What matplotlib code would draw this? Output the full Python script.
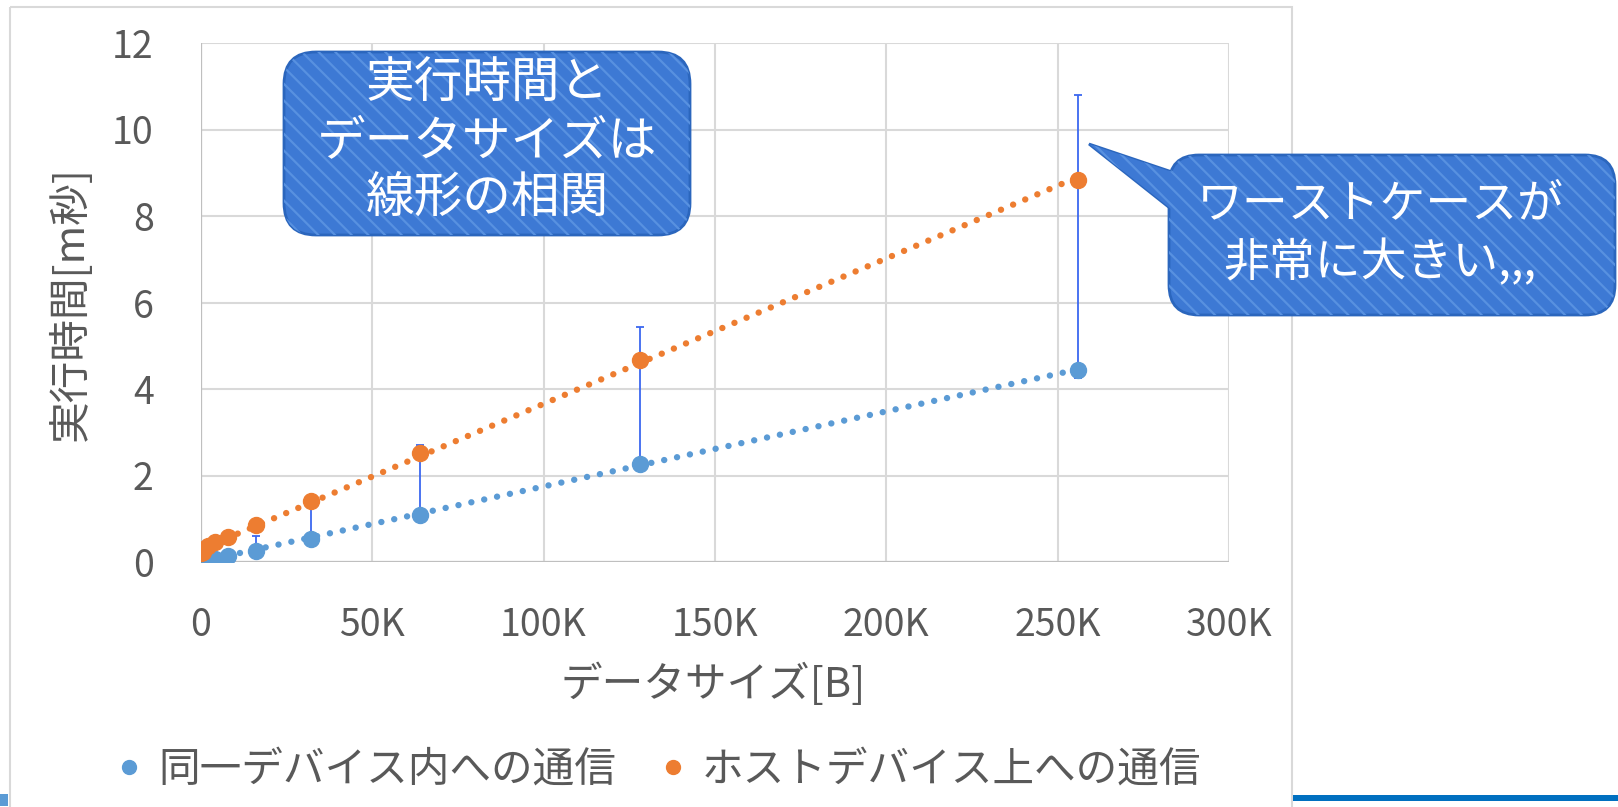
import numpy as np
import matplotlib.pyplot as plt
from matplotlib.patches import FancyBboxPatch, Polygon, Rectangle
from matplotlib.lines import Line2D

plt.rcParams['font.family'] = ['Noto Sans CJK JP', 'DejaVu Sans']

# data size [B] and execution time [ms]
size = np.array([100, 500, 1000, 2000, 4000, 8000, 16000, 32000, 64000, 128000, 256000])
t_same = np.array([0.03, 0.04, 0.05, 0.06, 0.08, 0.13, 0.26, 0.54, 1.09, 2.27, 4.45])
t_host = np.array([0.20, 0.24, 0.29, 0.37, 0.46, 0.58, 0.86, 1.42, 2.52, 4.67, 8.84])

# error bars (same-device series)
err_x = np.array([16000, 32000, 64000, 128000, 256000])
err_mid = np.array([0.26, 0.54, 1.09, 2.27, 4.45])
err_low = np.array([0.22, 0.50, 1.05, 2.20, 4.26])
err_high = np.array([0.60, 1.35, 2.71, 5.43, 10.8])

x_ticks = [0, 50000, 100000, 150000, 200000, 250000, 300000]
x_labels = ['0', '50K', '100K', '150K', '200K', '250K', '300K']
y_ticks = [0, 2, 4, 6, 8, 10, 12]

c_same = '#5b9bd5'
c_host = '#ed7d31'
c_err = '#3b68f0'
c_text = '#595959'

fig = plt.figure(figsize=(16.18, 8.07), dpi=100)
W, H = 1618, 807
ax = fig.add_axes([201 / W, (H - 562) / H, 1028 / W, 519 / H])

ax.set_xlim(0, 300000)
ax.set_ylim(0, 12)
ax.set_xticks(x_ticks)
ax.set_xticklabels(x_labels)
ax.set_yticks(y_ticks)
ax.grid(True, color='#d9d9d9', linewidth=1.5, zorder=0)
ax.set_axisbelow(True)
for s in ax.spines.values():
    s.set_visible(False)
ax.axhline(0, color='#bfbfbf', linewidth=1.6, zorder=1)
ax.axvline(0, color='#bfbfbf', linewidth=1.6, zorder=1)
ax.tick_params(length=0, labelsize=27, labelcolor=c_text)
ax.tick_params(axis='x', pad=32)
ax.tick_params(axis='y', pad=34)

ax.errorbar(err_x, err_mid, yerr=[err_mid - err_low, err_high - err_mid], fmt='none',
            ecolor=c_err, elinewidth=1.3, capsize=3.2, capthick=1.3, zorder=2)

# linear trendlines
xx = np.array([size[0], size[-1]])
for y, c in [(t_same, c_same), (t_host, c_host)]:
    k, b = np.polyfit(size, y, 1)
    ax.plot(xx, k * xx + b, color=c, linewidth=4.6, linestyle=(0, (0.01, 2.05)),
            dash_capstyle='round', zorder=3)

ax.plot(size, t_same, 'o', color=c_same, markersize=11.5, zorder=4)
ax.plot(size, t_host, 'o', color=c_host, markersize=11.5, zorder=4)

ax.set_xlabel('データサイズ[B]', fontsize=30, color=c_text, va='center')
ax.xaxis.set_label_coords(0.498, -0.236)
ax.set_ylabel('実行時間[m秒]', fontsize=30, color=c_text, va='center')
ax.yaxis.set_label_coords(-0.127, 0.497)

handles = [Line2D([], [], marker='o', linestyle='none', color=c_same, markersize=10),
           Line2D([], [], marker='o', linestyle='none', color=c_host, markersize=10)]
fig.legend(handles, ['同一デバイス内への通信', 'ホストデバイス上への通信'],
           loc='center', bbox_to_anchor=(660 / W, (H - 770) / H), ncol=2, frameon=False,
           fontsize=30, labelcolor=c_text, handletextpad=0.45, columnspacing=1.1,
           handlelength=0.5)

# overlay in pixel coordinates for frame and callouts
ov = fig.add_axes([0, 0, 1, 1], zorder=10)
ov.set_xlim(0, W)
ov.set_ylim(H, 0)
ov.axis('off')
ov.patch.set_alpha(0)

ov.add_patch(Rectangle((10, 7), 1282, 820, fill=False, edgecolor='#d9d9d9', linewidth=1.5))
ov.add_patch(Rectangle((1293, 795), 330, 6, color='#0070c0', linewidth=0))
ov.add_patch(Rectangle((0, 794), 8, 12, color='#5b9bd5', linewidth=0))

face = '#3d79d4'
hatch_c = '#5891e0'
edge = '#2b66bd'
plt.rcParams['hatch.linewidth'] = 1.6


def shape(patch_fn):
    base = patch_fn(facecolor=face, edgecolor=edge, linewidth=2.0)
    ov.add_patch(base)
    hat = patch_fn(facecolor='none', edgecolor=hatch_c, linewidth=0, hatch='\\\\')
    ov.add_patch(hat)


def box(x0, y0, x1, y1, r):
    return lambda **kw: FancyBboxPatch((x0, y0), x1 - x0, y1 - y0,
                                       boxstyle='round,pad=0,rounding_size=%d' % r, **kw)


# callout 1
shape(box(284, 52, 690, 235, 32))
for txt, yy in [('実行時間と', 84), ('データサイズは', 141), ('線形の相関', 198)]:
    ov.text(487, yy, txt, color='white', fontsize=35, ha='center', va='center')

# callout 2 with tail
tail = [(1089, 144), (1190, 178), (1190, 224)]
shape(lambda **kw: Polygon(tail, closed=True, **kw))
shape(box(1169, 155, 1615, 315, 30))
ov.add_patch(Polygon(tail, closed=True, facecolor=face, edgecolor='none'))
ov.add_patch(Polygon(tail, closed=True, facecolor='none', edgecolor=hatch_c, linewidth=0,
                     hatch='\\\\'))
for txt, yy in [('ワーストケースが', 204), ('非常に大きい,,,', 263)]:
    ov.text(1380, yy, txt, color='white', fontsize=33, ha='center', va='center')

fig.savefig('out.png', dpi=100)
